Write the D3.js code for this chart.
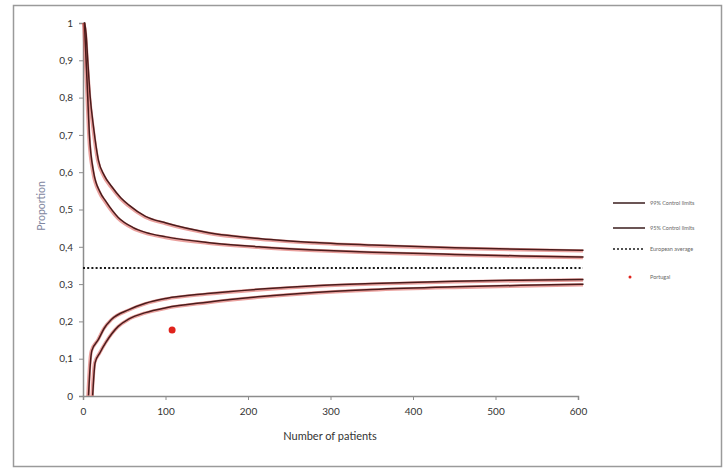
<!DOCTYPE html>
<html>
<head>
<meta charset="utf-8">
<script src="https://cdn.jsdelivr.net/npm/d3@7"></script>
<style>
  body { margin: 0; background: #fff; }
  text { font-family: Lato, "Open Sans", sans-serif; }
</style>
</head>
<body>
<script>
// values (n = patients, p = proportion)
const upper99N = [1, 3, 5, 8, 12, 18, 25, 34, 45, 55, 75, 100, 150, 215, 280, 350, 450, 530, 606];
const upper99P = [1.0, 0.97, 0.9, 0.8, 0.72, 0.63, 0.59, 0.56, 0.53, 0.51, 0.48, 0.462, 0.437, 0.42, 0.41, 0.403, 0.396, 0.392, 0.389];
const upper95N = [1, 3, 5, 7, 12, 20, 27, 42, 60, 75, 100, 150, 215, 280, 350, 450, 530, 606];
const upper95P = [1.0, 0.9, 0.8, 0.7, 0.6, 0.545, 0.52, 0.477, 0.45, 0.437, 0.425, 0.41, 0.398, 0.39, 0.384, 0.378, 0.374, 0.371];
const lower95N = [6, 8, 10, 18, 25, 34, 55, 75, 100, 150, 215, 280, 350, 450, 530, 606];
const lower95P = [0.0, 0.08, 0.12, 0.15, 0.18, 0.204, 0.23, 0.247, 0.26, 0.273, 0.285, 0.294, 0.300, 0.306, 0.309, 0.311];
const lower99N = [11, 14, 20, 27, 42, 55, 75, 100, 150, 215, 280, 350, 450, 530, 606];
const lower99P = [0.0, 0.088, 0.115, 0.142, 0.185, 0.205, 0.222, 0.235, 0.25, 0.265, 0.276, 0.284, 0.291, 0.295, 0.298];
const europeanAverage = 0.343;
const portugal = { n: 108, p: 0.177 };
const xTicks = [0, 100, 200, 300, 400, 500, 600];
const yTicks = [0, 0.1, 0.2, 0.3, 0.4, 0.5, 0.6, 0.7, 0.8, 0.9, 1];
const legendLabels = ["99% Control limits", "95% Control limits", "European average", "Portugal"];

const width = 727, height = 471;
const svg = d3.select("body").append("svg")
  .attr("width", width)
  .attr("height", height);

// outer frame
svg.append("rect")
  .attr("x", 13.5).attr("y", 5.5)
  .attr("width", 708).attr("height", 461)
  .attr("fill", "none")
  .attr("stroke", "#9a9a9a")
  .attr("stroke-width", 1.5);

const x = d3.scaleLinear().domain([0, 600]).range([83, 578]);
const y = d3.scaleLinear().domain([0, 1]).range([396, 23]);

// axes
const fmt = d => d === 0 || d === 1 ? String(d) : d3.format(".1f")(d).replace(".", ",");
const yAxis = svg.append("g")
  .attr("transform", "translate(83,0)")
  .call(d3.axisLeft(y).tickValues(yTicks).tickSize(4).tickPadding(6).tickFormat(fmt));
const xAxis = svg.append("g")
  .attr("transform", "translate(0,396)")
  .call(d3.axisBottom(x).tickValues(xTicks).tickSize(4).tickPadding(8));
[xAxis, yAxis].forEach(g => {
  g.select(".domain").attr("stroke", "#8c8c8c").attr("stroke-width", 1.5);
  g.selectAll(".tick line").attr("stroke", "#8c8c8c");
  g.selectAll("text").attr("fill", "#333").attr("font-size", 10);
});

// axis titles
svg.append("text")
  .attr("x", 330).attr("y", 440)
  .attr("text-anchor", "middle")
  .attr("font-size", 11)
  .attr("fill", "#333")
  .text("Number of patients");
svg.append("text")
  .attr("transform", "translate(45,206) rotate(-90)")
  .attr("text-anchor", "middle")
  .attr("font-size", 10.5)
  .attr("fill", "#7f86a0")
  .text("Proportion");

// control limit curves
const line = d3.line()
  .x(d => x(d[0]))
  .y(d => y(d[1]))
  .curve(d3.curveMonotoneX);
const curves = [
  [upper99N, upper99P],
  [upper95N, upper95P],
  [lower95N, lower95P],
  [lower99N, lower99P]
].map(([ns, ps]) => ns.map((n, i) => [n, ps[i]]));

svg.selectAll(".halo")
  .data(curves)
  .enter()
  .append("path")
  .attr("class", "halo")
  .attr("d", line)
  .attr("fill", "none")
  .attr("stroke", "#d9534f")
  .attr("stroke-opacity", 0.55)
  .attr("stroke-width", 3.4);
svg.selectAll(".limit")
  .data(curves)
  .enter()
  .append("path")
  .attr("class", "limit")
  .attr("d", line)
  .attr("fill", "none")
  .attr("stroke", "#4a1c1c")
  .attr("stroke-width", 1.5)
  .attr("transform", "translate(0.6,-0.6)");

// european average
svg.append("line")
  .attr("x1", x(0)).attr("x2", x(606))
  .attr("y1", y(europeanAverage)).attr("y2", y(europeanAverage))
  .attr("stroke", "#1a1a1a")
  .attr("stroke-width", 2)
  .attr("stroke-dasharray", "2,2.2");

// portugal
svg.append("circle")
  .attr("cx", x(portugal.n)).attr("cy", y(portugal.p))
  .attr("r", 3.5)
  .attr("fill", "#e0231c");

// legend
const legend = svg.append("g").attr("transform", "translate(613,0)");
const legendY = [203, 228, 249, 277];
legendLabels.forEach((label, i) => {
  const g = legend.append("g").attr("transform", `translate(0,${legendY[i]})`);
  if (i < 2) {
    g.append("line").attr("x1", 0).attr("x2", 32)
      .attr("stroke", "#3a1c1c").attr("stroke-width", 1.5);
  } else if (i === 2) {
    g.append("line").attr("x1", 0).attr("x2", 32)
      .attr("stroke", "#1a1a1a").attr("stroke-width", 1.5)
      .attr("stroke-dasharray", "2,2");
  } else {
    g.append("circle").attr("cx", 17).attr("cy", 0).attr("r", 1.5).attr("fill", "#e0231c");
  }
  g.append("text")
    .attr("x", 37).attr("y", 2)
    .attr("font-size", 5.5)
    .attr("fill", "#666")
    .text(label);
});
</script>
</body>
</html>
